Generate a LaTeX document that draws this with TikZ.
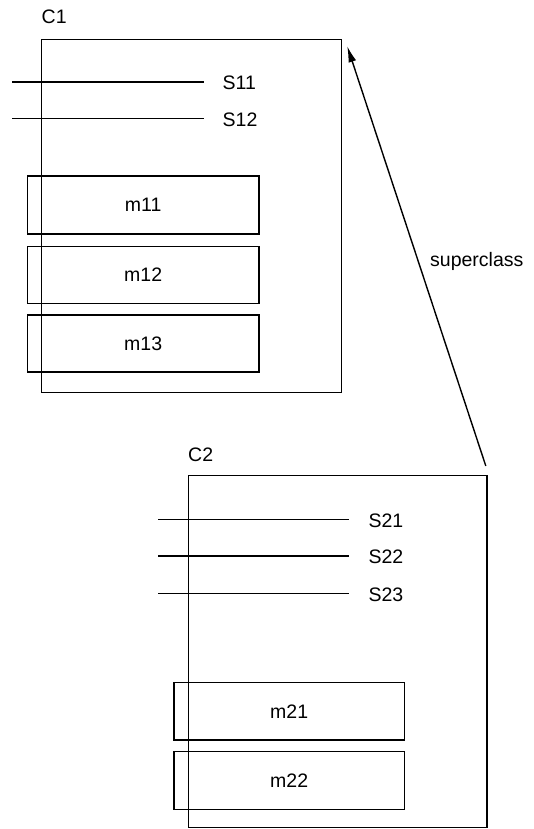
\documentclass[tikz,border=0pt]{standalone}
\usepackage{fontspec}
\setmainfont{Liberation Sans}
\usetikzlibrary{arrows.meta}
\begin{document}
\begin{tikzpicture}[x=1pt,y=-1pt,
  every node/.style={font=\fontsize{19.5}{23}\selectfont},
  classbox/.style={draw,line width=1.5pt,inner sep=0pt},
  methbox/.style={draw,line width=1.5pt,inner sep=0pt},
  lbl/.style={anchor=west,inner sep=0pt},
  slot/.style={line width=1.3pt},
  super/.style={line width=1.4pt,-{Latex[length=16pt,width=8pt]}}]
\useasboundingbox (0,0) rectangle (533,829);
% class C1
\node[lbl] (c1lab) at (41.5,17) {C1};
\node[classbox,minimum width=300pt,minimum height=353pt] (c1) at (191.5,216) {};
\coordinate (s11a) at (12,82);
\coordinate (s12a) at (12,118.5);
\node[lbl] (s11) at (222.5,83) {S11};
\node[lbl] (s12) at (222.5,120) {S12};
\draw[slot] (s11a) -- ([xshift=-18.5pt]s11.west |- s11a);
\draw[slot] (s12a) -- ([xshift=-18.5pt]s12.west |- s12a);
\node[methbox,minimum width=231.5pt,minimum height=58pt] (m11) at (143.2,205) {m11};
\node[methbox,minimum width=231.5pt,minimum height=57pt] (m12) at (143.2,275) {m12};
\node[methbox,minimum width=231.5pt,minimum height=57pt] (m13) at (143.2,343.7) {m13};
% class C2
\node[lbl] (c2lab) at (188,455) {C2};
\node[classbox,minimum width=298.5pt,minimum height=352pt] (c2) at (337.5,651.7) {};
\coordinate (s21a) at (158.3,519.3);
\coordinate (s22a) at (158.3,556);
\coordinate (s23a) at (158.3,593.3);
\node[lbl] (s21) at (368.3,520.5) {S21};
\node[lbl] (s22) at (368.3,557.2) {S22};
\node[lbl] (s23) at (368.3,594.5) {S23};
\draw[slot] (s21a) -- ([xshift=-19pt]s21.west |- s21a);
\draw[slot] (s22a) -- ([xshift=-19pt]s22.west |- s22a);
\draw[slot] (s23a) -- ([xshift=-19pt]s23.west |- s23a);
\node[methbox,minimum width=230.3pt,minimum height=57.3pt] (m21) at (289.2,711.3) {m21};
\node[methbox,minimum width=230.3pt,minimum height=57.6pt] (m22) at (289.2,780.5) {m22};
% superclass link
\draw[super] ([shift={(-1.7pt,9pt)}]c2.north east) -- ([shift={(5pt,-7.5pt)}]c1.north east);
\node[anchor=base west,inner sep=0pt] (sup) at (430,266) {superclass};
\end{tikzpicture}
\end{document}
